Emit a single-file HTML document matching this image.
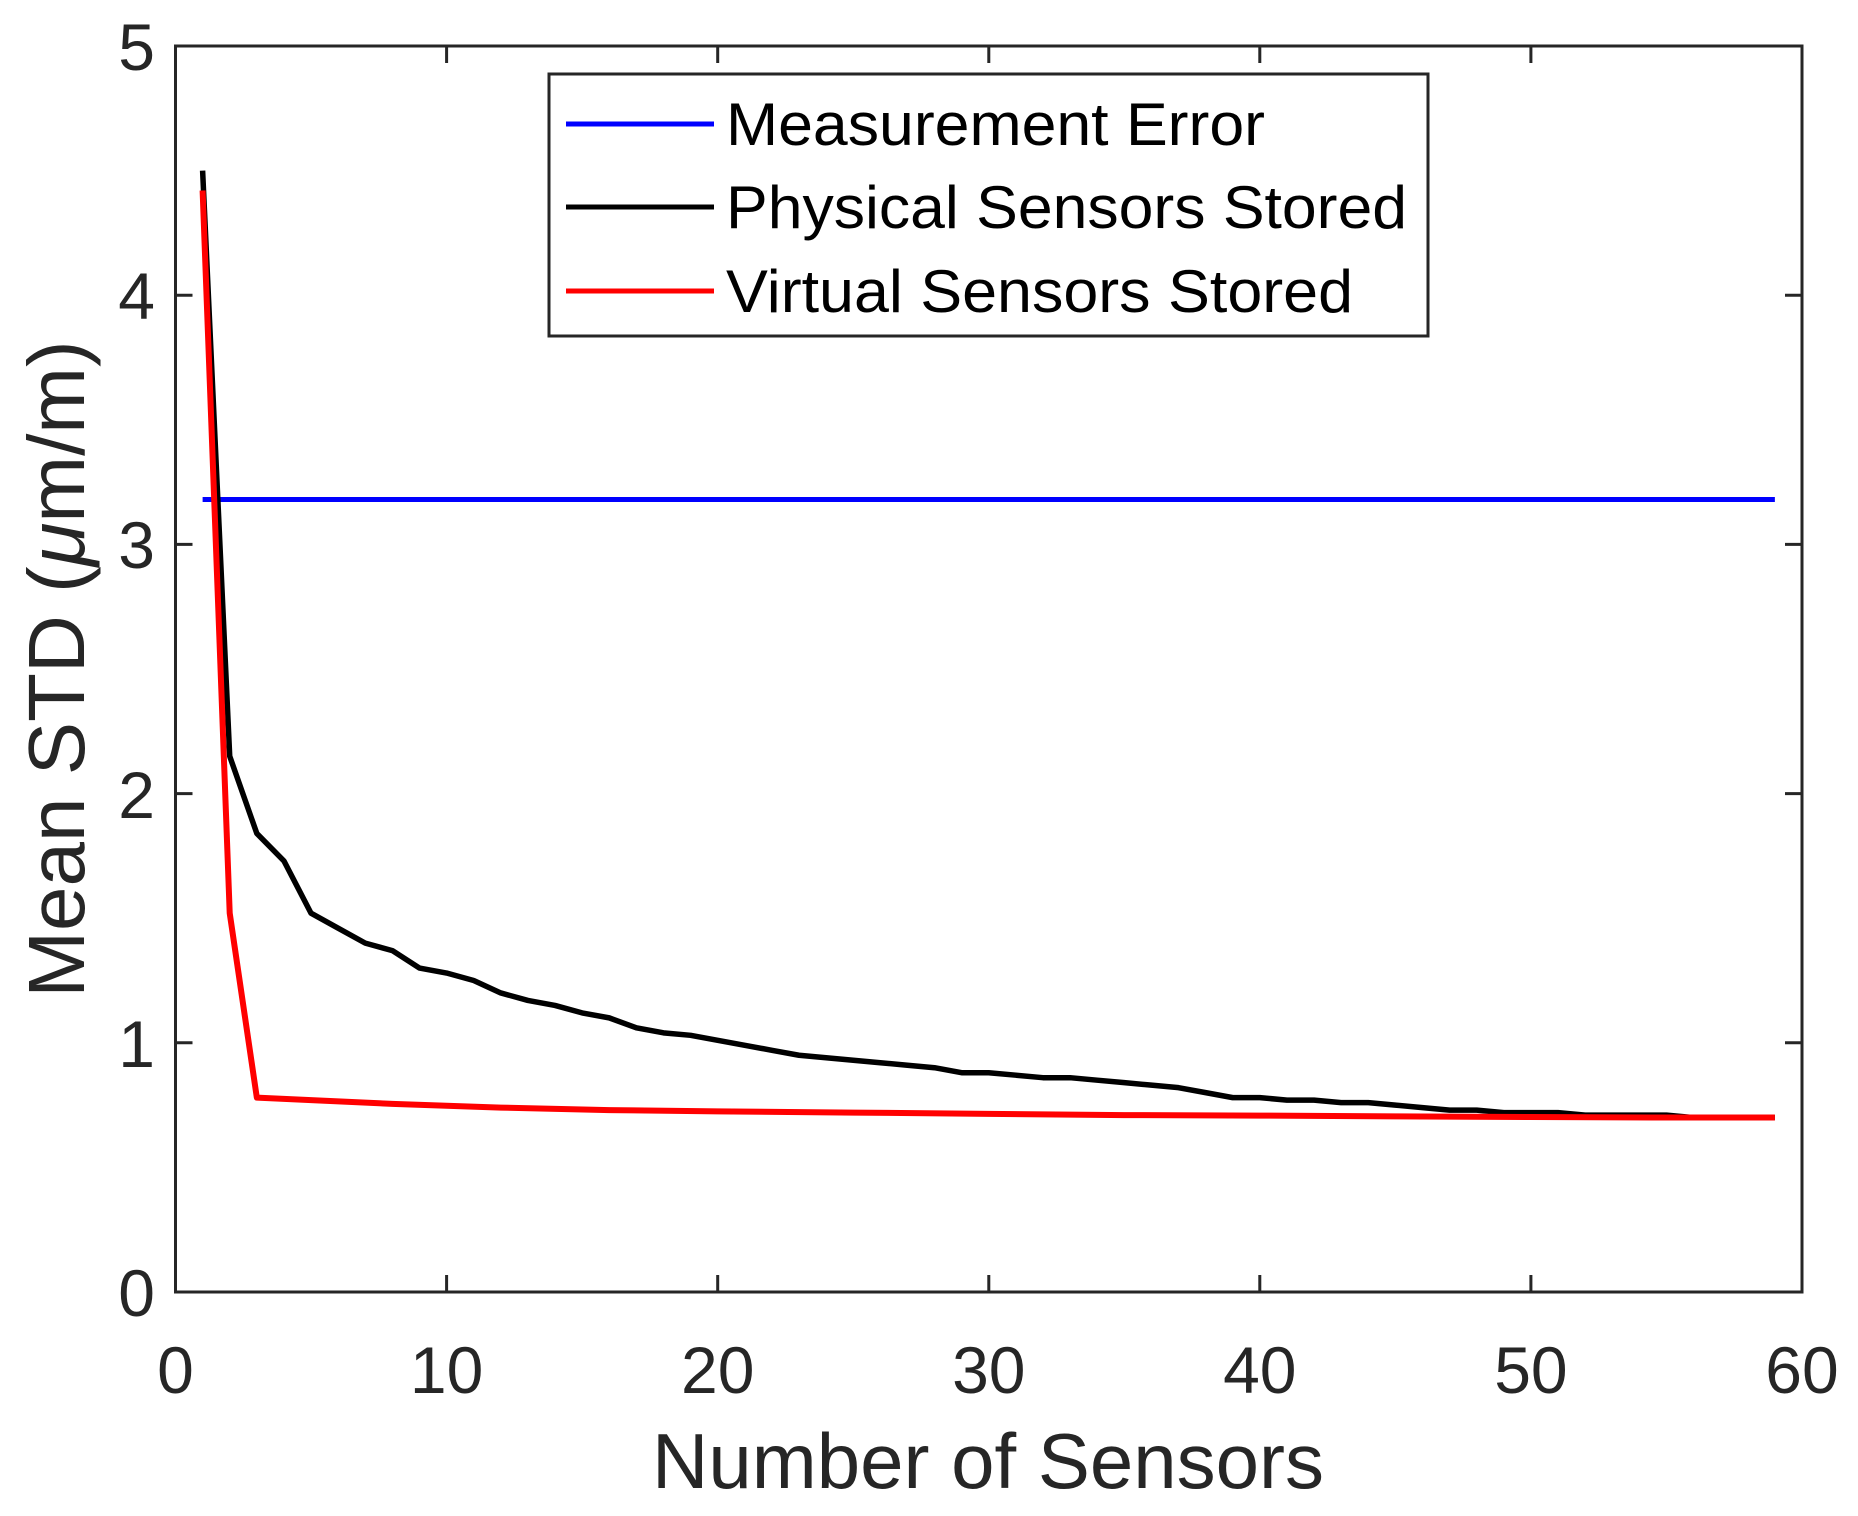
<!DOCTYPE html>
<html><head><meta charset="utf-8"><style>
html,body{margin:0;padding:0;background:#fff;}
svg{display:block;font-family:"Liberation Sans",Arial,sans-serif;}
</style></head><body>
<svg width="1858" height="1516" viewBox="0 0 1858 1516" xmlns="http://www.w3.org/2000/svg">
<rect width="1858" height="1516" fill="#fff"/>
<g transform="translate(175.5 1292) scale(27.108 -249.2)" fill="none" stroke-linejoin="round">
<polyline vector-effect="non-scaling-stroke" stroke="#0000ff" stroke-width="5" points="1,3.18 59,3.18"/>
<polyline vector-effect="non-scaling-stroke" stroke="#000" stroke-width="5.5" points="1,4.5 2,2.15 3,1.84 4,1.73 5,1.52 6,1.46 7,1.40 8,1.37 9,1.30 10,1.28 11,1.25 12,1.20 13,1.17 14,1.15 15,1.12 16,1.10 17,1.06 18,1.04 19,1.03 20,1.01 21,0.99 22,0.97 23,0.95 24,0.94 25,0.93 26,0.92 27,0.91 28,0.90 29,0.88 30,0.88 31,0.87 32,0.86 33,0.86 34,0.85 35,0.84 36,0.83 37,0.82 38,0.80 39,0.78 40,0.78 41,0.77 42,0.77 43,0.76 44,0.76 45,0.75 46,0.74 47,0.73 48,0.73 49,0.72 50,0.72 51,0.72 52,0.71 53,0.71 54,0.71 55,0.71 56,0.70 57,0.70 58,0.70 59,0.70"/>
<polyline vector-effect="non-scaling-stroke" stroke="#ff0000" stroke-width="6" points="1,4.42 2,1.52 3,0.78 5,0.77 8,0.755 12,0.74 16,0.73 20,0.725 25,0.72 30,0.715 35,0.71 40,0.708 45,0.705 50,0.702 55,0.70 59,0.70"/>
</g>
<g stroke="#262626" stroke-width="3" fill="none">
<rect x="175.5" y="46" width="1626.5" height="1246"/>
<path d="M175.5 1292v-17M446.6 1292v-17M717.7 1292v-17M988.8 1292v-17M1259.8 1292v-17M1530.9 1292v-17
M446.6 46v17M717.7 46v17M988.8 46v17M1259.8 46v17M1530.9 46v17
M175.5 1042.8h17M175.5 793.6h17M175.5 544.4h17M175.5 295.2h17
M1802 1042.8h-17M1802 793.6h-17M1802 544.4h-17M1802 295.2h-17"/>
</g>
<g fill="#262626" font-size="66" text-anchor="middle">
<text x="175.5" y="1393">0</text><text x="446.6" y="1393">10</text><text x="717.7" y="1393">20</text>
<text x="988.8" y="1393">30</text><text x="1259.8" y="1393">40</text><text x="1530.9" y="1393">50</text><text x="1802" y="1393">60</text>
</g>
<g fill="#262626" font-size="66" text-anchor="end">
<text x="155" y="1316">0</text><text x="155" y="1067">1</text><text x="155" y="818">2</text>
<text x="155" y="568">3</text><text x="155" y="319">4</text><text x="155" y="70">5</text>
</g>
<text x="988" y="1488" fill="#262626" font-size="78" text-anchor="middle">Number of Sensors</text>
<text transform="translate(84 669) rotate(-90)" fill="#262626" font-size="80" text-anchor="middle">Mean STD (<tspan font-style="italic">μ</tspan>m/m)</text>
<rect x="549" y="74" width="879" height="262" fill="#fff" stroke="#262626" stroke-width="3"/>
<line x1="566" y1="124" x2="714" y2="124" stroke="#0000ff" stroke-width="5"/>
<line x1="566" y1="207" x2="714" y2="207" stroke="#000" stroke-width="5"/>
<line x1="566" y1="291" x2="714" y2="291" stroke="#ff0000" stroke-width="5"/>
<g fill="#000" font-size="60">
<text x="726" y="145" textLength="539" lengthAdjust="spacingAndGlyphs">Measurement Error</text>
<text x="726" y="228" textLength="681" lengthAdjust="spacingAndGlyphs">Physical Sensors Stored</text>
<text x="726" y="312" textLength="627" lengthAdjust="spacingAndGlyphs">Virtual Sensors Stored</text>
</g>
</svg>
</body></html>
